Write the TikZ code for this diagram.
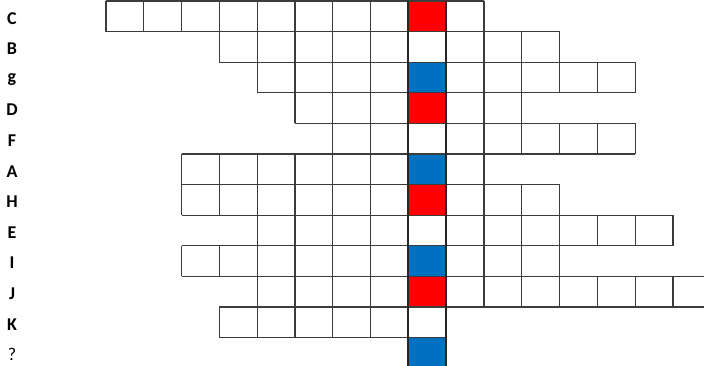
\documentclass[tikz,border=0pt]{standalone}
\usepackage{fontspec}
\setmainfont{Carlito}
\definecolor{cellred}{HTML}{FF0000}
\definecolor{cellblue}{HTML}{0070C0}
\definecolor{gridline}{HTML}{3C3C3C}
\begin{document}
\begin{tikzpicture}[x=0.75pt,y=-0.75pt,
  gridstroke/.style={draw=gridline,line width=0.8pt},
  keybox/.style={draw=black!85,line width=1.4pt},
  rowlabel/.style={font=\fontsize{13.5}{15}\selectfont\bfseries,anchor=center}]
\useasboundingbox (0,0) rectangle (704,365);
\clip (0,0) rectangle (704,365);
\def\cw{37.8}
\def\ch{30.6}
% key column fills
\foreach \r/\col in {0/cellred,2/cellblue,3/cellred,5/cellblue,6/cellred,8/cellblue,9/cellred,11/cellblue}{
  \fill[\col] ({106+\cw*8},{1+\ch*\r}) rectangle ({106+\cw*9},{1+\ch*(\r+1)});
}
% horizontal grid lines: boundary index / from column / to column
\foreach \k/\a/\b in {0/0/10,1/0/12,2/3/14,3/4/14,4/5/14,5/2/14,6/2/12,7/2/15,8/2/15,9/2/16,10/3/16,11/3/9,12/8/9}{
  \draw[gridstroke] ({106+\cw*\a},{1+\ch*\k}) -- ({106+\cw*\b},{1+\ch*\k});
}
% vertical grid lines per row: row / first boundary / last boundary
\foreach \r/\a/\b in {0/0/10,1/3/12,2/4/14,3/5/11,4/6/14,5/2/10,6/2/12,7/4/15,8/2/12,9/4/16,10/3/9}{
  \foreach \c in {\a,...,\b}{
    \draw[gridstroke] ({106+\cw*\c},{1+\ch*\r}) -- ({106+\cw*\c},{1+\ch*(\r+1)});
  }
}
% key column borders
\draw[keybox] ({106+\cw*8},1) -- ({106+\cw*8},{1+\ch*12});
\draw[keybox] ({106+\cw*9},1) -- ({106+\cw*9},{1+\ch*12});
% row labels
\foreach \r/\lab/\nm in {0/C/C,1/B/B,2/g/g,3/D/D,4/F/F,5/A/A,6/H/H,7/E/E,8/I/I,9/J/J,10/K/K}{
  \node[rowlabel] (lab\nm) at (12,{1+\ch*\r+\ch/2+2}) {\lab};
}
\node[font=\fontsize{13.5}{15}\selectfont,anchor=center] (labQ) at (12,{1+\ch*11+\ch/2+2}) {?};
\end{tikzpicture}
\end{document}
